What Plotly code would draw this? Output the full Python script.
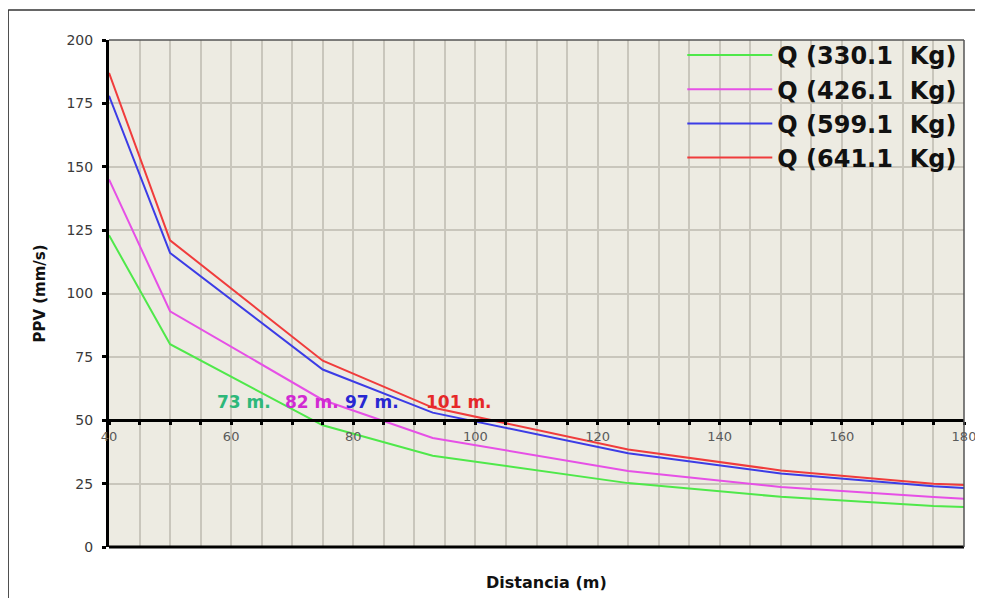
import plotly.graph_objects as go

# ---- data ----
distance = [40, 50, 75, 93, 125, 150, 175, 180]
q_330 = [123, 80, 48, 36, 25.2, 19.8, 16.2, 15.8]
q_426 = [145, 93, 58, 43, 30, 23.7, 19.7, 19.0]
q_599 = [178, 116, 70, 53, 37, 29, 24, 23.3]
q_641 = [187, 121, 73.5, 55, 38.5, 30.2, 25, 24.5]

series_names = ["Q (330.1  Kg)", "Q (426.1  Kg)", "Q (599.1  Kg)", "Q (641.1  Kg)"]
series_values = [q_330, q_426, q_599, q_641]
series_colors = ["#4FE84A", "#E650E6", "#3C3CE6", "#F03C3C"]

label_texts = ["73 m.", "82 m.", "97 m.", "101 m."]
label_x = [62.1, 73.3, 83.1, 97.3]
label_y = [57.3, 57.3, 57.3, 57.3]
label_colors = ["#2DB87A", "#D22AD2", "#2828D2", "#E62828"]

y_ticks = [0, 25, 50, 75, 100, 125, 150, 175, 200]
x_ticks = [40, 60, 80, 100, 120, 140, 160, 180]

fig = go.Figure()
for i, (name, vals, col) in enumerate(zip(series_names, series_values, series_colors)):
    fig.add_trace(go.Scatter(
        x=distance, y=vals, mode="lines", name=name,
        line=dict(color=col, width=2), legendgroup=f"g{i}",
    ))

for t, x, y, c in zip(label_texts, label_x, label_y, label_colors):
    fig.add_annotation(x=x, y=y, xref="x", yref="y", text=t, showarrow=False,
                       yanchor="middle",
                       font=dict(family="DejaVu Sans", size=17, color=c, weight="bold"))

grid_col = "#C9C6BC"
fig.update_layout(
    width=967, height=590,
    margin=dict(l=101, r=11, t=32, b=51, autoexpand=False),
    paper_bgcolor="white",
    plot_bgcolor="#EDEBE2",
    showlegend=True,
    legend=dict(
        x=0.998, xanchor="right", y=1.014, yanchor="top",
        bgcolor="rgba(0,0,0,0)", borderwidth=0,
        font=dict(family="DejaVu Sans", size=24, color="#111", weight="bold"),
        itemwidth=85, tracegroupgap=2, traceorder="normal",
    ),
    xaxis=dict(
        range=[40, 180], anchor="free", position=0.25, automargin=False,
        tickvals=x_ticks, ticks="outside", ticklen=3, tickwidth=3, tickcolor="black",
        ticklabeloverflow="allow",
        showline=True, linecolor="black", linewidth=3,
        showgrid=True, gridcolor=grid_col, gridwidth=1.5,
        minor=dict(dtick=5, tick0=0, showgrid=True, gridcolor=grid_col, gridwidth=1.5,
                   ticks="outside", ticklen=3, tickwidth=3, tickcolor="black"),
        zeroline=False,
        tickfont=dict(family="DejaVu Sans", size=13, color="#5A5A5A"),
    ),
    yaxis=dict(
        range=[0, 200], tickvals=y_ticks, domain=[0, 1], automargin=False,
        ticks="outside", ticklen=4, tickwidth=3, tickcolor="black",
        ticklabelstandoff=6,
        showline=True, linecolor="black", linewidth=3,
        showgrid=True, gridcolor=grid_col, gridwidth=1.5, zeroline=False,
        tickfont=dict(family="DejaVu Sans", size=14, color="#3A3A3A"),
        title=dict(text="PPV (mm/s)", standoff=18,
                   font=dict(family="DejaVu Sans", size=15, color="#111", weight="bold")),
    ),
)

# x-axis title at the bottom of the chart
fig.add_annotation(x=0.512, y=-0.071, xref="paper", yref="paper", text="Distancia (m)",
                   showarrow=False, yanchor="middle",
                   font=dict(family="DejaVu Sans", size=16, color="#111", weight="bold"))

# plot frame
fig.add_shape(type="line", xref="x domain", yref="y domain", x0=0, x1=1, y0=0, y1=0,
              line=dict(color="black", width=3))
fig.add_shape(type="line", xref="x domain", yref="y domain", x0=0, x1=1, y0=1, y1=1,
              line=dict(color="#555", width=1.5))
fig.add_shape(type="line", xref="x domain", yref="y domain", x0=1, x1=1, y0=0, y1=1,
              line=dict(color="#555", width=1.5))
# outer picture border (left and top)
fig.add_shape(type="line", xref="paper", yref="paper", x0=-0.118, x1=-0.118, y0=-0.2, y1=1.059,
              line=dict(color="#333", width=1.5))
fig.add_shape(type="line", xref="paper", yref="paper", x0=-0.118, x1=1.05, y0=1.059, y1=1.059,
              line=dict(color="#333", width=1.5))

fig.write_html("out.html")
